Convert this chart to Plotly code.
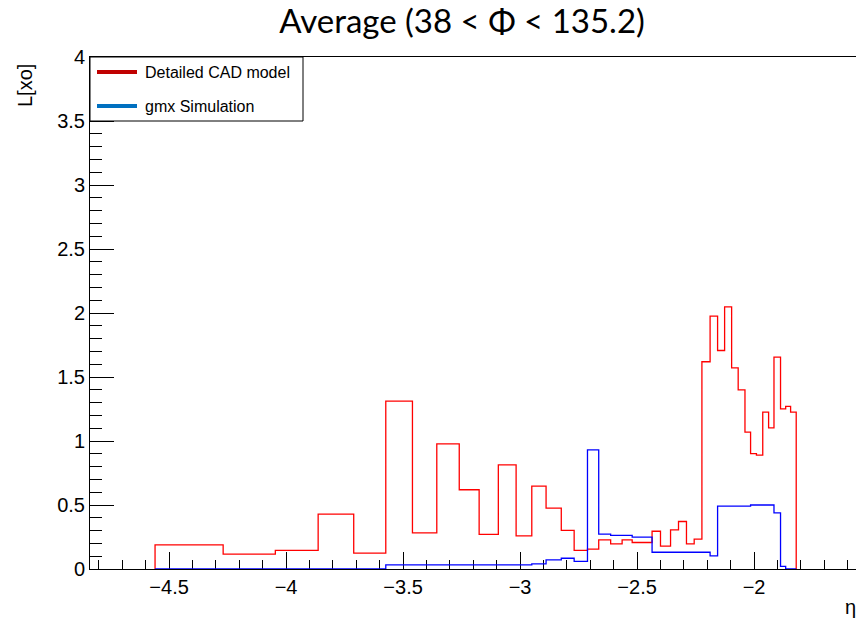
import plotly.graph_objects as go

# Bin edges in eta (variable-width bins, shared by both histograms)
eta_edges = [-4.56, -4.269, -4.046, -3.863, -3.711, -3.574, -3.46, -3.356, -3.26,
             -3.175, -3.093, -3.017, -2.95, -2.889, -2.824, -2.769, -2.712, -2.664,
             -2.613, -2.564, -2.521, -2.436, -2.40, -2.357, -2.323, -2.289, -2.256,
             -2.223, -2.188, -2.156, -2.126, -2.096, -2.068, -2.039, -2.015, -1.99,
             -1.963, -1.938, -1.915, -1.887, -1.865, -1.844, -1.82]

cad_values = [0.189, 0.116, 0.145, 0.428, 0.124, 1.311, 0.283, 0.978, 0.619,
              0.270, 0.814, 0.259, 0.647, 0.475, 0.301, 0.145, 0.155, 0.228,
              0.197, 0.228, 0.207, 0.295, 0.178, 0.306, 0.371, 0.197, 0.233,
              1.619, 1.975, 1.707, 2.048, 1.572, 1.400, 1.069, 0.902, 0.889,
              1.225, 1.103, 1.655, 1.251, 1.270, 1.225]

gmx_values = [0.0, 0.0, 0.0, 0.0, 0.0, 0.033, 0.033, 0.033, 0.033,
              0.033, 0.033, 0.033, 0.040, 0.072, 0.084, 0.059, 0.931, 0.272,
              0.262, 0.262, 0.249, 0.131, 0.131, 0.131, 0.131, 0.131, 0.131,
              0.131, 0.103, 0.491, 0.491, 0.491, 0.491, 0.491, 0.500, 0.500,
              0.500, 0.500, 0.439, 0.020, 0.0, 0.0]

series_names = ["Detailed CAD model", "gmx Simulation"]
title_text = "Average (38 < \u03a6 < 135.2)"
x_title = "\u03b7"
y_title = "L[xo]"

W, H = 856, 625
ML, MR, MT, MB = 90, 0, 57, 56
PW, PH = W - ML - MR, H - MT - MB


def px(x):
    return (x - ML) / PW


def py(y):
    return (H - MB - y) / PH


def hist_xy(edges, vals):
    xs = [edges[0]] + list(edges)
    ys = [0] + list(vals) + [0]
    return xs, ys


fig = go.Figure()
for vals, col, name in [(cad_values, "#ff0000", series_names[0]),
                        (gmx_values, "#0000ff", series_names[1])]:
    xs, ys = hist_xy(eta_edges, vals)
    fig.add_trace(go.Scatter(x=xs, y=ys, mode="lines", line_shape="hv",
                             line=dict(color=col, width=1.3), name=name,
                             showlegend=False))

axis_font = dict(family="Liberation Sans, Arial", size=20, color="black")

fig.update_layout(
    width=W, height=H,
    margin=dict(l=ML, r=MR, t=MT, b=MB),
    paper_bgcolor="white", plot_bgcolor="white",
    title=dict(text=title_text, x=462 / W, xanchor="center", y=1 - 21 / H,
               yanchor="middle",
               font=dict(family="Lato, Open Sans", size=33, color="black")),
    xaxis=dict(range=[-4.838, -4.838 + PW / 234.0], showgrid=False, zeroline=False,
               showline=True, linecolor="black", linewidth=1, mirror=True,
               ticks="inside", ticklen=17, tickcolor="black", tickwidth=1,
               dtick=0.5, tick0=0, tickfont=axis_font, layer="below traces",
               minor=dict(ticks="inside", ticklen=9, dtick=0.1, tick0=0,
                          tickcolor="black", showgrid=False)),
    yaxis=dict(range=[0, 4], showgrid=False, zeroline=False,
               showline=True, linecolor="black", linewidth=1, mirror=False,
               ticks="inside", ticklen=24, tickcolor="black", tickwidth=1,
               dtick=0.5, tick0=0, tickfont=axis_font, layer="below traces",
               minor=dict(ticks="inside", ticklen=12, dtick=0.1, tick0=0,
                          tickcolor="black", showgrid=False)),
)

# Axis titles (ROOT style: at the end of the axes)
fig.add_annotation(text=y_title, xref="paper", yref="paper", x=px(25), y=py(86),
                   textangle=-90, showarrow=False, xanchor="center", yanchor="middle",
                   font=dict(family="Liberation Sans, Arial", size=20, color="black"))
fig.add_annotation(text=x_title, xref="paper", yref="paper", x=px(843), y=py(607),
                   showarrow=False, xanchor="left", yanchor="middle",
                   font=dict(family="Liberation Sans, Arial", size=20, color="black"))

# Legend box
legend_cols = ["#c00000", "#0070c0"]
legend_y = [72, 106]
fig.add_shape(type="rect", xref="paper", yref="paper",
              x0=px(90), x1=px(303), y0=py(121), y1=py(57),
              line=dict(color="black", width=1), fillcolor="white", layer="above")
for name, col, ly in zip(series_names, legend_cols, legend_y):
    fig.add_shape(type="line", xref="paper", yref="paper",
                  x0=px(97), x1=px(137), y0=py(ly), y1=py(ly),
                  line=dict(color=col, width=4), layer="above")
    fig.add_annotation(text=name, xref="paper", yref="paper", x=px(143), y=py(ly),
                       showarrow=False, xanchor="left", yanchor="middle",
                       font=dict(family="Liberation Sans, Arial", size=16, color="black"))

fig.write_html("out.html")
